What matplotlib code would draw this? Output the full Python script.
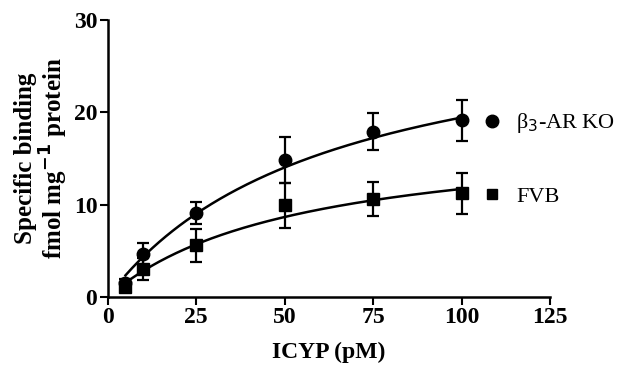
import numpy as np
import matplotlib.pyplot as plt
from matplotlib.lines import Line2D

# ICYP concentrations (pM)
icyp = [5, 10, 25, 50, 75, 100]

# beta3-AR KO specific binding (fmol/mg protein) and SEM
ko_mean = [1.5, 4.6, 9.1, 14.8, 17.9, 19.1]
ko_err = [0.4, 1.2, 1.2, 2.5, 2.0, 2.2]

# FVB specific binding and SEM
fvb_mean = [1.1, 3.0, 5.6, 9.9, 10.6, 11.2]
fvb_err = [0.4, 1.2, 1.8, 2.4, 1.8, 2.2]

# one-site binding fits: Bmax, Kd
ko_fit = (31.6, 62.7)
fvb_fit = (18.0, 54.0)

plt.rcParams['font.family'] = ['Liberation Serif', 'DejaVu Serif']

fig = plt.figure(figsize=(6.23, 3.67), dpi=100)
ax = fig.add_axes([0.173, 0.191, 0.71, 0.755])

xs = np.linspace(5, 100, 200)
for (bmax, kd) in (ko_fit, fvb_fit):
    ax.plot(xs, bmax * xs / (kd + xs), color='black', lw=1.8)

ax.errorbar(icyp, ko_mean, yerr=ko_err, fmt='o', color='black', ms=9,
            capsize=4.5, elinewidth=1.6, capthick=1.6)
ax.errorbar(icyp, fvb_mean, yerr=fvb_err, fmt='s', color='black', ms=8,
            capsize=4.5, elinewidth=1.6, capthick=1.6)

ax.set_xlim(0, 125)
ax.set_ylim(0, 30)
ax.set_xticks([0, 25, 50, 75, 100, 125])
ax.set_yticks([0, 10, 20, 30])
for side in ('top', 'right'):
    ax.spines[side].set_visible(False)
for side in ('left', 'bottom'):
    ax.spines[side].set_linewidth(1.8)
ax.tick_params(width=1.5, length=5.5, pad=2, labelsize=17)
for lab in ax.get_xticklabels() + ax.get_yticklabels():
    lab.set_fontweight('bold')

ax.set_xlabel('ICYP (pM)', fontsize=17, fontweight='bold', labelpad=10)
ax.set_ylabel('Specific binding\nfmol mg$^{\\mathbf{-1}}$ protein', fontsize=18,
              fontweight='bold', labelpad=3, linespacing=1.0)

handles = [Line2D([], [], marker='o', ls='none', color='black', ms=9),
           Line2D([], [], marker='s', ls='none', color='black', ms=7.5)]
ax.legend(handles, ['β$_3$-AR KO', 'FVB'], loc='upper left',
          bbox_to_anchor=(0.803, 0.742), frameon=False, fontsize=16,
          handlelength=0.8, handletextpad=0.7, labelspacing=2.3)

fig.savefig('out.png', dpi=100)
